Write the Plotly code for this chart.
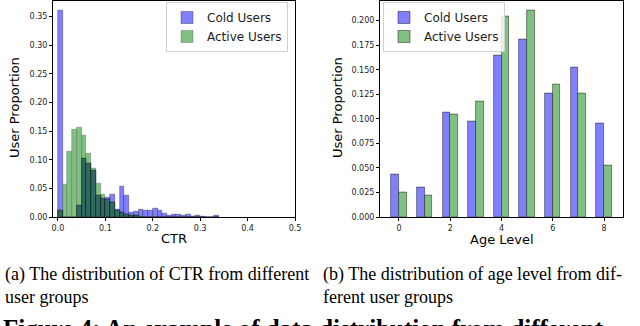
import numpy as np
import plotly.graph_objects as go

# ---------------- data ----------------
ctr_bin_width = 0.01
cold_ctr = [0.360, 0.0, 0.0, 0.0, 0.020, 0.103, 0.094, 0.082, 0.038, 0.032,
            0.034, 0.039, 0.013, 0.054, 0.037, 0.008, 0.010, 0.013, 0.012, 0.012,
            0.015, 0.012, 0.006, 0.003, 0.005, 0.005, 0.002, 0.005, 0.001, 0.003,
            0.001, 0.0, 0.0, 0.003]
active_ctr = [0.011, 0.056, 0.114, 0.153, 0.157, 0.143, 0.111, 0.084, 0.058, 0.039,
              0.030, 0.025, 0.011, 0.008, 0.005, 0.003, 0.002]

age_levels = [0, 1, 2, 3, 4, 5, 6, 7, 8]
cold_age = [0.043, 0.030, 0.106, 0.097, 0.164, 0.181, 0.126, 0.152, 0.095]
active_age = [0.025, 0.022, 0.104, 0.118, 0.204, 0.210, 0.135, 0.126, 0.052]

ctr_ticks = [0.0, 0.1, 0.2, 0.3, 0.4, 0.5]
ctr_ytick = [0.00, 0.05, 0.10, 0.15, 0.20, 0.25, 0.30, 0.35]
age_xticks = [0, 2, 4, 6, 8]
age_yticks = [0.000, 0.025, 0.050, 0.075, 0.100, 0.125, 0.150, 0.175, 0.200]

series_names = ["Cold Users", "Active Users"]
caption_a = ["(a) The distribution of CTR from different", "user groups"]
caption_b = ["(b) The distribution of age level from dif-", "ferent user groups"]
figure_caption = "Figure 4: An example of data distribution from different"

# ---------------- derived ----------------
n = max(len(cold_ctr), len(active_ctr))
cold_arr = np.zeros(n); cold_arr[:len(cold_ctr)] = cold_ctr
act_arr = np.zeros(n); act_arr[:len(active_ctr)] = active_ctr
bin_starts = np.arange(n) * ctr_bin_width
overlap = np.minimum(cold_arr, act_arr)

BLUE = "#8080ff"
GREEN = "#80c080"
DARK = "#2e6b62"
EDGE = "rgba(0,0,0,0.55)"

W, H = 640, 326
def px(x):
    return x / W
def py(y):
    return 1 - y / H

fig = go.Figure()

# left histogram
fig.add_trace(go.Bar(x=bin_starts, y=cold_arr, width=ctr_bin_width, offset=0,
                     marker=dict(color=BLUE, line=dict(color=EDGE, width=0.6)),
                     name=series_names[0], xaxis="x", yaxis="y", legend="legend"))
fig.add_trace(go.Bar(x=bin_starts, y=act_arr, width=ctr_bin_width, offset=0,
                     marker=dict(color=GREEN, line=dict(color="rgba(60,60,60,0.5)", width=0.6)),
                     name=series_names[1], xaxis="x", yaxis="y", legend="legend"))
fig.add_trace(go.Bar(x=bin_starts, y=overlap, width=ctr_bin_width, offset=0,
                     marker=dict(color=DARK, line=dict(color="rgba(0,0,0,0.8)", width=0.6)),
                     showlegend=False, xaxis="x", yaxis="y", hoverinfo="skip"))

# right grouped bars
fig.add_trace(go.Bar(x=age_levels, y=cold_age, width=0.3, offset=-0.3,
                     marker=dict(color=BLUE, line=dict(color=EDGE, width=0.8)),
                     name=series_names[0], xaxis="x2", yaxis="y2", legend="legend2"))
fig.add_trace(go.Bar(x=age_levels, y=active_age, width=0.3, offset=0,
                     marker=dict(color=GREEN, line=dict(color=EDGE, width=0.8)),
                     name=series_names[1], xaxis="x2", yaxis="y2", legend="legend2"))

tickfont = dict(family="DejaVu Sans", size=8, color="#222")
axis_common = dict(showline=True, linecolor="black", linewidth=1, mirror=True,
                   ticks="outside", ticklen=3, tickcolor="black", tickwidth=1,
                   showgrid=False, zeroline=False, tickfont=tickfont, automargin=False)

left_dom = [px(53), px(295)]
right_dom = [px(380), px(623)]
ydom = [py(217), py(0.5)]

legend_common = dict(bgcolor="rgba(255,255,255,0.8)", bordercolor="#d0d0d0", borderwidth=1,
                     font=dict(family="DejaVu Sans", size=12, color="#222"),
                     tracegroupgap=0, itemwidth=30)

fig.update_layout(
    width=W, height=H,
    margin=dict(l=0, r=0, t=0, b=0, pad=0, autoexpand=False),
    paper_bgcolor="white", plot_bgcolor="white",
    barmode="overlay", bargap=0,
    xaxis=dict(domain=left_dom, range=[-0.0105, 0.5], tickvals=ctr_ticks,
               ticktext=[f"{v:.1f}" for v in ctr_ticks], anchor="y", **axis_common),
    yaxis=dict(domain=ydom, range=[0, 0.378], tickvals=ctr_ytick,
               ticktext=[f"{v:.2f}" for v in ctr_ytick], anchor="x", **axis_common),
    xaxis2=dict(domain=right_dom, range=[-0.74, 8.74], tickvals=age_xticks,
                ticktext=[str(v) for v in age_xticks], anchor="y2", **axis_common),
    yaxis2=dict(domain=ydom, range=[0, 0.2205], tickvals=age_yticks,
                ticktext=[f"{v:.3f}" for v in age_yticks], anchor="x2", **axis_common),
    legend=dict(x=px(288), y=py(2), xanchor="right", yanchor="top", **legend_common),
    legend2=dict(x=px(383), y=py(2), xanchor="left", yanchor="top", **legend_common),
    showlegend=True,
)

title_font = dict(family="DejaVu Sans", size=13, color="black")
ann = []
ann.append(dict(text="CTR", x=px(174), y=py(238), xref="paper", yref="paper",
                showarrow=False, font=title_font, xanchor="center", yanchor="middle"))
ann.append(dict(text="Age Level", x=px(502), y=py(239), xref="paper", yref="paper",
                showarrow=False, font=title_font, xanchor="center", yanchor="middle"))
ann.append(dict(text="User Proportion", x=px(15), y=py(108), xref="paper", yref="paper",
                showarrow=False, font=title_font, textangle=-90, xanchor="center", yanchor="middle"))
ann.append(dict(text="User Proportion", x=px(338), y=py(108), xref="paper", yref="paper",
                showarrow=False, font=title_font, textangle=-90, xanchor="center", yanchor="middle"))

cap_font = dict(family="Liberation Serif", size=18, color="black")
ann.append(dict(text=caption_a[0], x=px(3), y=py(274), xref="paper", yref="paper",
                showarrow=False, font=cap_font, xanchor="left", yanchor="middle"))
ann.append(dict(text=caption_a[1], x=px(3), y=py(297), xref="paper", yref="paper",
                showarrow=False, font=cap_font, xanchor="left", yanchor="middle"))
ann.append(dict(text=caption_b[0], x=px(321), y=py(274), xref="paper", yref="paper",
                showarrow=False, font=cap_font, xanchor="left", yanchor="middle"))
ann.append(dict(text=caption_b[1], x=px(321), y=py(297), xref="paper", yref="paper",
                showarrow=False, font=cap_font, xanchor="left", yanchor="middle"))
ann.append(dict(text="<b>" + figure_caption + "</b>", x=px(1), y=py(313), xref="paper", yref="paper",
                showarrow=False, font=dict(family="Liberation Serif", size=25, color="black"),
                xanchor="left", yanchor="top"))
fig.update_layout(annotations=ann)

fig.write_html("out.html", config={"displayModeBar": False},
               post_script="document.body.style.margin='0';document.body.style.overflow='hidden';")
